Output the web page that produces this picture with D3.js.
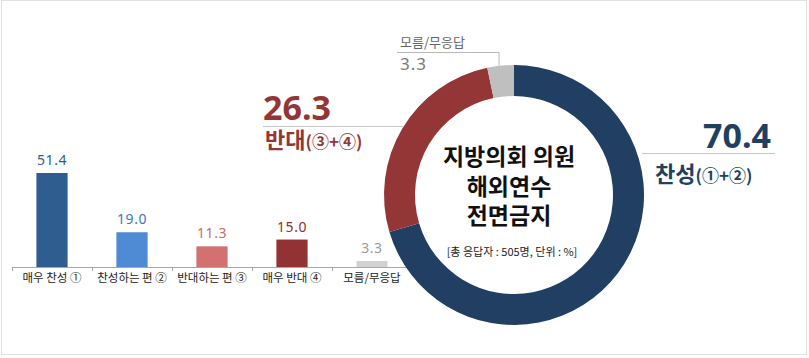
<!DOCTYPE html>
<html>
<head>
<meta charset="utf-8">
<script src="https://cdn.jsdelivr.net/npm/d3@7"></script>
<style>
  html, body { margin: 0; padding: 0; background: #fff; }
  svg { display: block; }
</style>
</head>
<body>
<div id="chart"></div>
<script>
// ── Data ─────────────────────────────────────
const BAR_CATEGORIES = ["매우 찬성 ①", "찬성하는 편 ②", "반대하는 편 ③", "매우 반대 ④", "모름/무응답"];
const BAR_VALUES     = [51.4, 19.0, 11.3, 15.0, 3.3];
const PIE_LABELS     = ["찬성", "반대", "모름/무응답"];
const PIE_SUFFIX     = ["(①+②)", "(③+④)", ""];
const PIE_VALUES     = [70.4, 26.3, 3.3];
const TITLE_LINES    = ["지방의회 의원", "해외연수", "전면금지"];
const NOTE           = "[총 응답자 : 505명, 단위 : %]";

// ── Styles ───────────────────────────────────
const BAR_COLOR   = ["#305d90", "#4f8ad5", "#d37070", "#933234", "#d2d2d2"];
const LABEL_COLOR = ["#2f5d8d", "#3f76bb", "#cf6a6a", "#8e2f31", "#9a9a9a"];
const PIE_COLOR   = ["#203f62", "#943636", "#bfbfbf"];
const KR  = "'Noto Sans CJK KR','Noto Sans',sans-serif";
const NUM = "'Noto Sans','Noto Sans CJK KR',sans-serif";

const W = 809, H = 358;
const svg = d3.select("#chart").append("svg").attr("width", W).attr("height", H);

// frame
svg.append("rect").attr("x", 1.5).attr("y", 0.5).attr("width", 805).attr("height", 354)
  .attr("fill", "none").attr("stroke", "#e2e2e2");

// ── Bar chart ────────────────────────────────
const baseY = 267;
const x = d3.scaleBand().domain(BAR_CATEGORIES).range([12, 412])
  .paddingInner(0.61).paddingOuter(0.305);
const y = d3.scaleLinear().domain([0, 51.4]).range([baseY, 173]);

const bars = svg.append("g");
bars.selectAll("rect").data(BAR_VALUES).join("rect")
  .attr("x", (d, i) => x(BAR_CATEGORIES[i]))
  .attr("y", d => y(d))
  .attr("width", x.bandwidth())
  .attr("height", d => baseY - y(d))
  .attr("fill", (d, i) => BAR_COLOR[i]);

bars.selectAll("text.val").data(BAR_VALUES).join("text")
  .attr("class", "val")
  .attr("x", (d, i) => x(BAR_CATEGORIES[i]) + x.bandwidth() / 2)
  .attr("y", d => y(d) - 8)
  .attr("text-anchor", "middle")
  .attr("font-family", NUM).attr("font-size", "14px").attr("letter-spacing", "0.5px")
  .attr("fill", (d, i) => LABEL_COLOR[i])
  .text(d => d.toFixed(1));

// axis line + boundary ticks
const gap = (x.step() - x.bandwidth()) / 2;
bars.append("line").attr("x1", 12).attr("x2", 412).attr("y1", baseY + 0.5).attr("y2", baseY + 0.5)
  .attr("stroke", "#a8a8a8");
const bounds = BAR_CATEGORIES.map(c => x(c) - gap).concat([x(BAR_CATEGORIES[4]) + x.bandwidth() + gap]);
bars.selectAll("line.tick").data(bounds).join("line")
  .attr("class", "tick")
  .attr("x1", d => d + 0.5).attr("x2", d => d + 0.5)
  .attr("y1", baseY).attr("y2", baseY + 4)
  .attr("stroke", "#a8a8a8");

bars.selectAll("text.cat").data(BAR_CATEGORIES).join("text")
  .attr("class", "cat")
  .attr("x", d => x(d) + x.bandwidth() / 2)
  .attr("y", baseY + 15)
  .attr("text-anchor", "middle")
  .attr("font-family", KR).attr("font-size", "11.5px").attr("fill", "#222")
  .text(d => d);

// ── Donut ────────────────────────────────────
const cx = 514, cy = 195, R = 130, r = 99;
const pie = d3.pie().sort(null).value(d => d);
const arcs = pie(PIE_VALUES);
const arc = d3.arc().innerRadius(r).outerRadius(R);

const donut = svg.append("g").attr("transform", `translate(${cx},${cy})`);
donut.selectAll("path").data(arcs).join("path")
  .attr("d", arc)
  .attr("fill", (d, i) => PIE_COLOR[i]);

// centre title
const title = svg.append("g");
title.selectAll("text").data(TITLE_LINES).join("text")
  .attr("x", cx - 5).attr("y", (d, i) => 165 + i * 29.5)
  .attr("text-anchor", "middle")
  .attr("font-family", KR).attr("font-weight", 700).attr("font-size", "23px")
  .attr("fill", "#111")
  .text(d => d);
title.append("text")
  .attr("x", cx - 2).attr("y", 256)
  .attr("text-anchor", "middle")
  .attr("font-family", KR).attr("font-size", "11px").attr("fill", "#222")
  .text(NOTE);

// ── Callouts ─────────────────────────────────
// 찬성
const c0 = svg.append("g");
c0.append("line").attr("x1", 642).attr("x2", 775).attr("y1", 153.5).attr("y2", 153.5)
  .attr("stroke", "#c3c8ce");
c0.append("text").attr("x", 771).attr("y", 148).attr("text-anchor", "end")
  .attr("font-family", NUM).attr("font-weight", 700).attr("font-size", "34px")
  .attr("fill", PIE_COLOR[0]).text(PIE_VALUES[0].toFixed(1));
const t0 = c0.append("text").attr("x", 655).attr("y", 182)
  .attr("font-family", KR).attr("font-weight", 700).attr("fill", PIE_COLOR[0]);
t0.append("tspan").attr("font-size", "22px").text(PIE_LABELS[0]);
t0.append("tspan").attr("font-size", "17px").text(PIE_SUFFIX[0]);

// 반대
const ly = 126;
const edgeX = cx - Math.sqrt(R * R - (cy - ly) * (cy - ly));
const c1 = svg.append("g");
c1.append("line").attr("x1", 263).attr("x2", edgeX).attr("y1", ly + 0.5).attr("y2", ly + 0.5)
  .attr("stroke", "#c8c8c8");
c1.append("text").attr("x", 263).attr("y", 120)
  .attr("font-family", NUM).attr("font-weight", 700).attr("font-size", "34px")
  .attr("fill", PIE_COLOR[1]).text(PIE_VALUES[1].toFixed(1));
const t1 = c1.append("text").attr("x", 265).attr("y", 148)
  .attr("font-family", KR).attr("font-weight", 700).attr("fill", PIE_COLOR[1]);
t1.append("tspan").attr("font-size", "22px").text(PIE_LABELS[1]);
t1.append("tspan").attr("font-size", "17px").text(PIE_SUFFIX[1]);

// 모름/무응답
const g2 = arcs[2];
const mid = (g2.startAngle + g2.endAngle) / 2;
const px = cx + R * Math.sin(mid), py = cy - R * Math.cos(mid);
const c2 = svg.append("g");
c2.append("path")
  .attr("d", `M397,52.5 H${px - 1.5} V${py}`)
  .attr("fill", "none").attr("stroke", "#b8b8b8");
c2.append("text").attr("x", 400).attr("y", 47)
  .attr("font-family", KR).attr("font-size", "13px").attr("fill", "#666")
  .text(PIE_LABELS[2]);
c2.append("text").attr("x", 400).attr("y", 70)
  .attr("font-family", NUM).attr("font-size", "17px").attr("letter-spacing", "1px")
  .attr("fill", "#7a7a7a").text(PIE_VALUES[2].toFixed(1));
</script>
</body>
</html>
